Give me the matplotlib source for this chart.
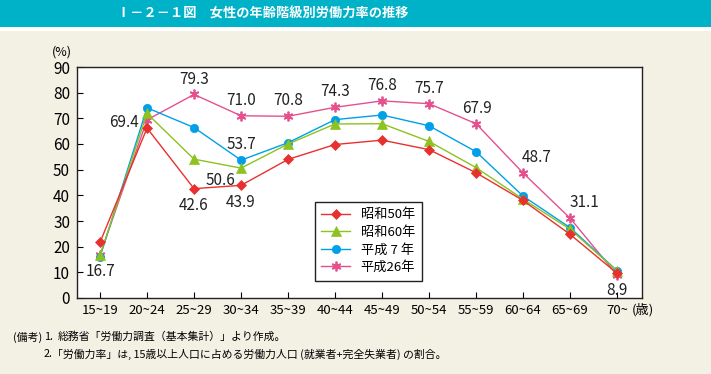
import matplotlib.pyplot as plt
from matplotlib.patches import Rectangle

plt.rcParams['font.family'] = ['Noto Sans CJK JP', 'DejaVu Sans']

# --- data ---
ages = ['15~19', '20~24', '25~29', '30~34', '35~39', '40~44',
        '45~49', '50~54', '55~59', '60~64', '65~69', '70~']
s50 = [21.7, 66.2, 42.6, 43.9, 54.0, 59.8, 61.5, 57.8, 48.8, 38.0, 24.8, 9.6]
s60 = [16.6, 71.9, 54.1, 50.6, 60.0, 67.8, 67.9, 61.0, 50.8, 38.5, 26.8, 10.5]
h07 = [16.0, 74.1, 66.4, 53.7, 60.5, 69.5, 71.3, 67.1, 57.0, 39.7, 27.4, 10.6]
h26 = [16.7, 69.4, 79.3, 71.0, 70.8, 74.3, 76.8, 75.7, 67.9, 48.7, 31.1, 8.9]

series = [
    ('昭和50年', s50, '#e8312f', 'D', 5.5),
    ('昭和60年', s60, '#8dc21f', '^', 7),
    ('平成 7 年', h07, '#00a0e9', 'o', 6),
    ('平成26年', h26, '#e4518e', (6, 2, 0), 7),
]

# labels: (series values, index, dx, dy, ha, va) offsets in points
labels = [
    (h26, 0, 0, -6, 'center', 'top'),
    (h26, 1, -6, -2, 'right', 'center'),
    (h26, 2, 0, 5, 'center', 'bottom'),
    (h26, 3, 0, 5, 'center', 'bottom'),
    (h26, 4, 0, 5, 'center', 'bottom'),
    (h26, 5, 0, 5, 'center', 'bottom'),
    (h26, 6, 0, 5, 'center', 'bottom'),
    (h26, 7, 0, 5, 'center', 'bottom'),
    (h26, 8, 1, 5, 'center', 'bottom'),
    (h26, 9, 10, 5, 'center', 'bottom'),
    (h26, 10, 10, 5, 'center', 'bottom'),
    (h26, 11, 0, -5, 'center', 'top'),
    (h07, 3, 0, 5, 'center', 'bottom'),
    (s60, 3, -15, -3, 'center', 'top'),
    (s50, 2, 0, -6, 'center', 'top'),
    (s50, 3, 0, -6, 'center', 'top'),
]

fig = plt.figure(figsize=(7.11, 3.74), dpi=100, facecolor='#f3f0e4')

# title bar
fig.patches.append(Rectangle((0, 1 - 27 / 374), 1, 27 / 374, transform=fig.transFigure,
                             facecolor='#00b2c8', edgecolor='none'))
fig.patches.append(Rectangle((0, 1 - 31 / 374), 1, 4 / 374, transform=fig.transFigure,
                             facecolor='white', edgecolor='none'))
fig.text(263 / 711, 1 - 14 / 374, 'Ⅰ－２－１図　女性の年齢階級別労働力率の推移',
         color='white', fontsize=9.5, fontweight='bold', ha='center', va='center')

ax = fig.add_axes([77 / 711, 76 / 374, 565 / 711, 231 / 374])
ax.set_facecolor('white')

x = list(range(len(ages)))
for k, (name, vals, color, marker, ms) in enumerate(series):
    ax.plot(x, vals, color=color, marker=marker, markersize=ms, linewidth=1,
            markeredgewidth=1.3 if marker == (6, 2, 0) else 0.5, label=name,
            zorder=6 - k)

for vals, i, dx, dy, ha, va in labels:
    ax.annotate(f'{vals[i]:.1f}', (i, vals[i]), xytext=(dx, dy), textcoords='offset points',
                ha=ha, va=va, fontsize=11, color='#222222', zorder=8)

ax.set_xlim(-0.49, 11.53)
ax.set_ylim(0, 90)
ax.set_yticks(range(0, 91, 10))
ax.set_xticks(x)
ax.set_xticklabels(ages, fontsize=9.5)
ax.tick_params(axis='y', direction='in', length=4, labelsize=11, pad=5)
ax.tick_params(axis='x', direction='in', length=4, pad=4)
for sp in ax.spines.values():
    sp.set_color('#222222')
    sp.set_linewidth(1)

fig.text(632 / 711, 1 - 310 / 374, '(歳)', fontsize=9.5, ha='left', va='center')
fig.text(62 / 711, 1 - 52 / 374, '(%)', fontsize=9, ha='center', va='center')

leg = ax.legend(loc='upper left', bbox_to_anchor=(231 / 565, 103 / 231), fontsize=9.5,
                frameon=True, fancybox=False, edgecolor='#222222', framealpha=1,
                handlelength=2.2, borderpad=0.5, labelspacing=0.35)
leg.get_frame().set_linewidth(1)
leg.set_zorder(10)

# notes
fig.text(13 / 711, 1 - 337 / 374, '(備考)', fontsize=7.8, ha='left', va='center')
fig.text(44 / 711, 1 - 337 / 374, '1.', fontsize=7.8, ha='left', va='center')
fig.text(58 / 711, 1 - 337 / 374, '総務省「労働力調査（基本集計）」より作成。',
         fontsize=7.8, ha='left', va='center')
fig.text(44 / 711, 1 - 354 / 374, '2.', fontsize=7.8, ha='left', va='center')
fig.text(52 / 711, 1 - 354 / 374,
         '「労働力率」は, 15歳以上人口に占める労働力人口 (就業者+完全失業者) の割合。',
         fontsize=7.8, ha='left', va='center')

fig.savefig('out.png', dpi=100, facecolor=fig.get_facecolor())
